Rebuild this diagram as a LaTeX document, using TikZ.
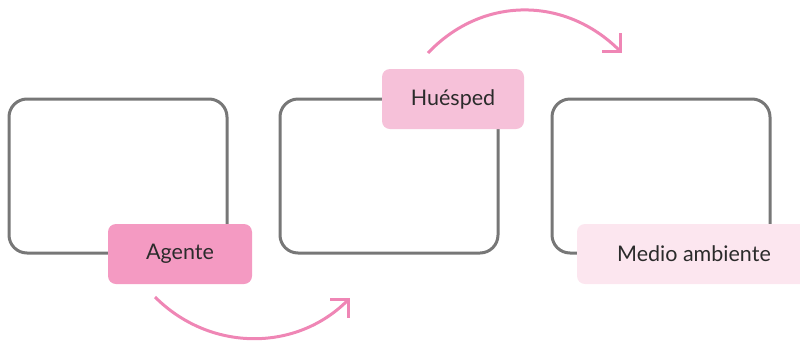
\documentclass[tikz,border=0pt]{standalone}
\usepackage{fontspec}
\setmainfont{Lato}
\usetikzlibrary{arrows.meta}
\definecolor{framegray}{HTML}{777777}
\definecolor{pinkA}{HTML}{F49AC2}
\definecolor{pinkB}{HTML}{F6C1D9}
\definecolor{pinkC}{HTML}{FCE6EF}
\definecolor{arrowpink}{HTML}{EF86B5}
\definecolor{txt}{HTML}{2B2B2B}
\begin{document}
\begin{tikzpicture}[x=1pt,y=-1pt,
  frame/.style={draw=framegray,line width=3pt,rounded corners=18pt,fill=white},
  tag/.style={rounded corners=8pt,minimum height=60pt,inner sep=0pt,text=txt,font=\fontsize{21.5}{24}\selectfont},
  flow/.style={draw=arrowpink,line width=3pt,-{Straight Barb[angle=90:15.5pt 1,line cap=butt,line join=miter]}}]
\useasboundingbox (0,0) rectangle (800,341);
\clip (0,0) rectangle (800,341);
\path[frame] (9,99) rectangle (227,253);
\path[frame] (280,99) rectangle (498,253);
\path[frame] (552,99) rectangle (770,253);
\node[tag,fill=pinkA,minimum width=144pt] (agente) at (180,254) {Agente};
\node[tag,fill=pinkB,minimum width=142pt] (huesped) at (453,99) {Huésped};
\node[tag,fill=pinkC,minimum width=234pt] (medio) at (694,254) {Medio ambiente};
\coordinate (a1s) at (155,297);
\coordinate (a1e) at (350,298);
\coordinate (a2s) at (428,53);
\coordinate (a2e) at (622,53);
\draw[flow] (a1s) .. controls (210,352) and (296,352) .. (a1e);
\draw[flow] (a2s) .. controls (482,-4) and (565,-4) .. (a2e);
\end{tikzpicture}
\end{document}
